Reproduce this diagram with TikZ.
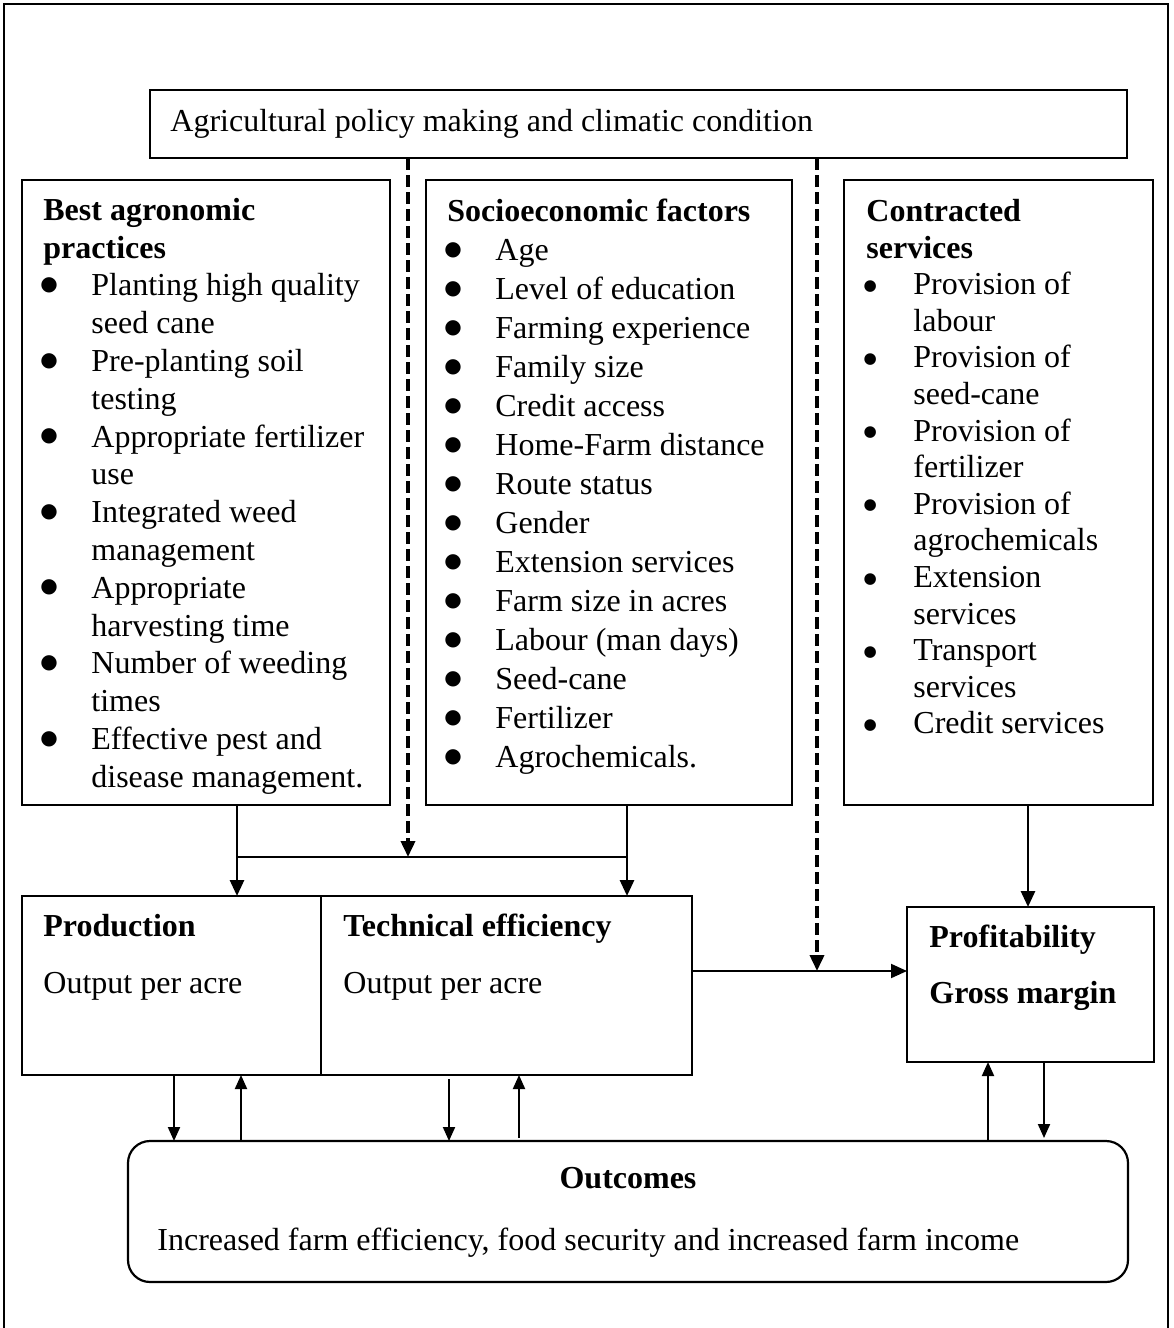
\documentclass[tikz,border=0pt]{standalone}
\usepackage{fontspec}
\setmainfont{Liberation Serif}
\newfontfamily\bulfont{DejaVu Sans}
\usepackage{enumitem}
\usetikzlibrary{arrows.meta,calc}

\newcommand{\bigbul}{\raisebox{2.7pt}{\fontsize{10}{11}\bulfont ●}}
\newcommand{\smallbul}{\raisebox{2.2pt}{\fontsize{7.6}{8}\bulfont ●}}

\tikzset{
  box/.style={draw, line width=1.1pt, anchor=north west, inner sep=0pt, outer sep=0pt},
  txt/.style={anchor=north west, inner sep=0pt, align=flush left,
    execute at begin node={\spaceskip=0pt\xspaceskip=0pt\relax}},
  lbl/.style={anchor=base west, inner sep=0pt},
  arr/.style={line width=1.4pt, -{Triangle[width=7pt,length=8pt]}},
  thinarr/.style={line width=1pt, -{Triangle[width=6pt,length=7pt]}},
  dasharr/.style={line width=1.8pt, dash pattern=on 6pt off 2.5pt, -{Triangle[width=7pt,length=8pt]}},
}

\begin{document}
\begin{tikzpicture}[x=0.5pt,y=-0.5pt,font=\fontsize{16}{19}\selectfont]
\useasboundingbox (0,0) rectangle (1173,1328);

% outer frame
\draw[line width=1.2pt] (4,1330) -- (4,4) -- (1168,4) -- (1168,1330);

% boxes
\node[box, minimum width=488.5pt, minimum height=34pt] (policy) at (150,90) {};
\node[box, minimum width=184pt, minimum height=312.5pt] (agro) at (22,180) {};
\node[box, minimum width=183pt, minimum height=312.5pt] (socio) at (426,180) {};
\node[box, minimum width=154.5pt, minimum height=312.5pt] (contract) at (844,180) {};
\node[box, minimum width=149.5pt, minimum height=89.5pt] (prod) at (22,896) {};
\node[box, minimum width=185.5pt, minimum height=89.5pt] (tech) at (321,896) {};
\node[box, minimum width=123.5pt, minimum height=77.5pt] (profit) at (907,907) {};
\node[box, rounded corners=11pt, minimum width=500pt, minimum height=70.5pt] (outcome) at (128,1141) {};

% texts
\node[lbl] (policytxt) at (170,131) {Agricultural policy making and climatic condition};

\node[txt, text width=175pt, font=\fontsize{16}{18.9}\selectfont] (agrotxt) at (43,193.5)
  {\strut\textbf{Best agronomic\newline practices}
   \begin{itemize}[label=\bigbul, leftmargin=24pt, labelsep=16.8pt, itemsep=0pt, parsep=0pt, topsep=0pt, partopsep=0pt]
   \item Planting high quality\newline seed cane
   \item Pre-planting soil\newline testing
   \item Appropriate fertilizer\newline use
   \item Integrated weed\newline management
   \item Appropriate\newline harvesting time
   \item Number of weeding\newline times
   \item Effective pest and\newline disease management.
   \end{itemize}};

\node[txt, text width=172pt, font=\fontsize{16}{19.5}\selectfont] (sociotxt) at (447,193.7)
  {\strut\textbf{Socioeconomic factors}
   \begin{itemize}[label=\bigbul, leftmargin=24pt, labelsep=16.8pt, itemsep=0pt, parsep=0pt, topsep=0pt, partopsep=0pt]
   \item Age
   \item Level of education
   \item Farming experience
   \item Family size
   \item Credit access
   \item Home-Farm distance
   \item Route status
   \item Gender
   \item Extension services
   \item Farm size in acres
   \item Labour (man days)
   \item Seed-cane
   \item Fertilizer
   \item Agrochemicals.
   \end{itemize}};

\node[txt, text width=142pt, font=\fontsize{16}{18.3}\selectfont] (contracttxt) at (866,195.4)
  {\strut\textbf{Contracted\newline services}
   \begin{itemize}[label=\smallbul, leftmargin=23.5pt, labelsep=18.3pt, itemsep=0pt, parsep=0pt, topsep=0pt, partopsep=0pt]
   \item Provision of\newline labour
   \item Provision of\newline seed-cane
   \item Provision of\newline fertilizer
   \item Provision of\newline agrochemicals
   \item Extension\newline services
   \item Transport\newline services
   \item Credit services
   \end{itemize}};

\node[lbl, font=\fontsize{16}{19}\bfseries] (prodhead) at (43,936) {Production};
\node[lbl] (prodtxt) at (43,993) {Output per acre};
\node[lbl, font=\fontsize{16}{19}\bfseries] (techhead) at (343,936) {Technical efficiency};
\node[lbl] (techtxt) at (343,993) {Output per acre};
\node[lbl, font=\fontsize{16}{19}\bfseries] (profithead) at (929,947) {Profitability};
\node[lbl, font=\fontsize{16}{19}\bfseries] (profittxt) at (929,1003) {Gross margin};
\node[anchor=base, inner sep=0pt, font=\fontsize{16}{19}\bfseries] (outhead) at (628,1188) {Outcomes};
\node[lbl] (outtxt) at (157,1250) {Increased farm efficiency, food security and increased farm income};

% junctions
\coordinate (jl) at (237,857);
\coordinate (jm) at (408,857);
\coordinate (jr) at (627,857);
\coordinate (jp) at (817,971);

% connectors
\draw[line width=1.4pt] (jl) -- (jr);
\draw[arr] (agro.south -| jl) -- (prod.north -| jl);
\draw[arr] (socio.south -| jr) -- (tech.north -| jr);
\draw[dasharr] (policy.south -| jm) -- (jm);
\draw[dasharr] (policy.south -| jp) -- (jp);
\draw[line width=1pt, -{Triangle[width=7pt,length=8pt]}] (tech.east |- jp) -- (profit.west |- jp);
\draw[arr] (1028,0 |- contract.south) -- (1028,0 |- profit.north);

\draw[thinarr] (174,0 |- prod.south) -- (174,0 |- outcome.north);
\draw[thinarr] (241,0 |- outcome.north) -- (241,0 |- prod.south);
\draw[thinarr] (449,1079) -- (449,0 |- outcome.north);
\draw[thinarr] (519,1138) -- (519,0 |- tech.south);
\draw[thinarr] (988,0 |- outcome.north) -- (988,0 |- profit.south);
\draw[thinarr] (1044,0 |- profit.south) -- (1044,1138);
\end{tikzpicture}
\end{document}
